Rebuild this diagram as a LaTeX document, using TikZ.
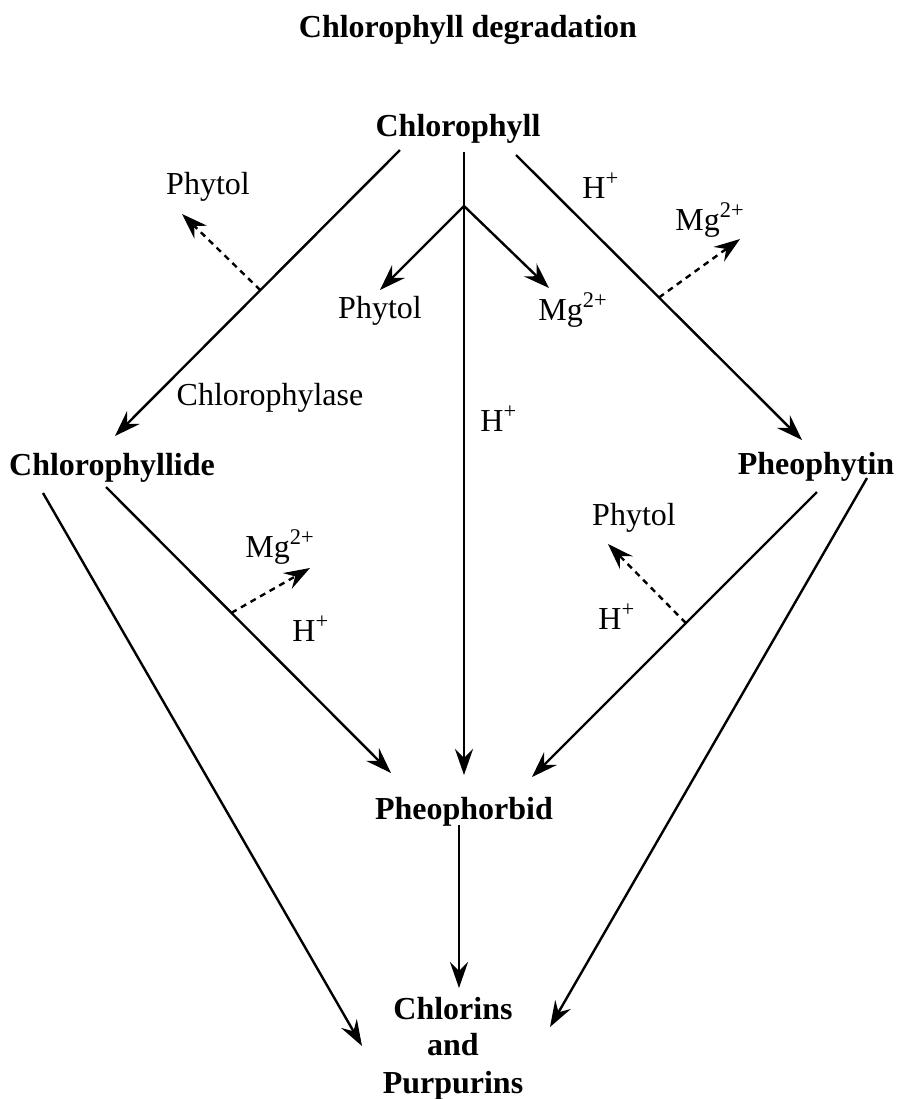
\documentclass[tikz,border=0pt]{standalone}
\usepackage{fontspec}
\setmainfont{Liberation Serif}
\usetikzlibrary{arrows.meta,calc}
\begin{document}
\begin{tikzpicture}[x=0.5pt,y=-0.5pt,
  lbl/.style={font=\fontsize{16}{19}\selectfont, inner sep=0pt},
  blbl/.style={font=\fontsize{16}{19}\selectfont\bfseries, inner sep=0pt, anchor=base},
  conn/.style={line width=1.2pt, -{Stealth[length=13pt,width=9pt,inset=4.5pt]}},
  dconn/.style={conn, dash pattern=on 3pt off 2.5pt}]
\useasboundingbox (0,0) rectangle (897,1099);
% main labels
\node[blbl] (title) at (468,37) {Chlorophyll degradation};
\node[blbl] (chl) at (458,136) {Chlorophyll};
\node[blbl] (chlide) at (112,475) {Chlorophyllide};
\node[blbl] (pheo) at (816,474) {Pheophytin};
\node[blbl] (pheob) at (464,819) {Pheophorbid};
\node[blbl] (cp1) at (453,1019) {Chlorins};
\node[blbl] (cp2) at (453,1055) {and};
\node[blbl] (cp3) at (453,1093) {Purpurins};
% small labels
\node[lbl,anchor=base] (phyA) at (208,194) {Phytol};
\node[lbl,anchor=base] (phyB) at (380,318) {Phytol};
\node[lbl,anchor=base] (chlase) at (270,405) {Chlorophylase};
\node[lbl,anchor=base west] (hA) at (582,198) {H\textsuperscript{+}};
\node[lbl,anchor=base west] (mgA) at (675,230) {Mg\textsuperscript{2+}};
\node[lbl,anchor=base west] (mgB) at (538,320) {Mg\textsuperscript{2+}};
\node[lbl,anchor=base west] (hB) at (480,431) {H\textsuperscript{+}};
\node[lbl,anchor=base west] (mgC) at (245,557) {Mg\textsuperscript{2+}};
\node[lbl,anchor=base west] (hC) at (292,641) {H\textsuperscript{+}};
\node[lbl,anchor=base] (phyC) at (634,525) {Phytol};
\node[lbl,anchor=base west] (hD) at (598,629) {H\textsuperscript{+}};
% connector end points
\coordinate (c1s) at (400,150);  \coordinate (c1e) at (115,436);
\coordinate (c2s) at (464,152);  \coordinate (c2e) at (464,775);
\coordinate (br)  at (464,206);
\coordinate (b1e) at (380,290);  \coordinate (b2e) at (549,288);
\coordinate (c3s) at (516,155);  \coordinate (c3e) at (802,440);
\coordinate (c4s) at (106,487);  \coordinate (c4e) at (391,773);
\coordinate (c5s) at (43,493);   \coordinate (c5e) at (362,1046);
\coordinate (c6s) at (817,492);  \coordinate (c6e) at (532,777);
\coordinate (c7s) at (867,478);  \coordinate (c7e) at (550,1027);
\coordinate (c8s) at (459,825);  \coordinate (c8e) at (459,988);
\coordinate (d1e) at (182,214);
\coordinate (d2e) at (740,239);
\coordinate (d3e) at (310,568);
\coordinate (d4e) at (608,544);
% connectors
\draw[conn] (c1s) -- (c1e);
\draw[conn] (c2s) -- (c2e);
\draw[conn] (br) -- (b1e);
\draw[conn] (br) -- (b2e);
\draw[conn] (c3s) -- (c3e);
\draw[conn] (c4s) -- (c4e);
\draw[conn] (c5s) -- (c5e);
\draw[conn] (c6s) -- (c6e);
\draw[conn] (c7s) -- (c7e);
\draw[conn] (c8s) -- (c8e);
% dashed side products
\draw[dconn] ($(c1s)!0.49!(c1e)$) -- (d1e);
\draw[dconn] ($(c3s)!0.50!(c3e)$) -- (d2e);
\draw[dconn] ($(c4s)!0.44!(c4e)$) -- (d3e);
\draw[dconn] ($(c6s)!0.46!(c6e)$) -- (d4e);
\end{tikzpicture}
\end{document}
